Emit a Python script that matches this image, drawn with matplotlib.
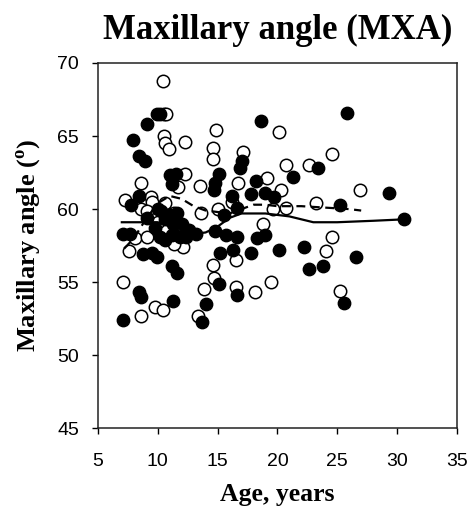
import numpy as np
import matplotlib
matplotlib.use("Agg")
import matplotlib.pyplot as plt

plt.rcParams['mathtext.fontset'] = 'custom'
plt.rcParams['mathtext.bf'] = 'Liberation Serif:bold'
plt.rcParams['mathtext.rm'] = 'Liberation Serif:bold'

# filled circles (group 1)
filled_age = [9.9, 10.2, 9.1, 7.9, 8.4, 8.9, 11.0, 11.5, 11.2, 14.8, 14.7, 15.1, 17.0, 16.9,
              8.4, 16.2, 18.6, 25.8, 23.4, 21.3, 18.2, 17.8, 19.0, 19.7, 29.3, 25.2, 30.6,
              16.6, 18.3, 19.0, 16.3, 17.8, 20.1, 22.2, 26.6, 22.6, 23.8, 16.6, 25.6,
              8.4, 8.6, 11.3, 7.1, 11.2, 11.6, 14.0, 13.7, 15.1, 15.2, 8.8, 9.5, 9.9,
              7.1, 13.2, 14.8, 15.7, 15.5, 16.6, 7.8, 10.3, 11.0, 11.6, 12.0, 9.1, 9.8,
              10.2, 10.6, 7.7, 11.2, 11.9, 12.4, 10.6, 11.3, 12.6, 10.0]
filled_mxa = [66.5, 66.5, 65.8, 64.7, 63.6, 63.3, 62.3, 62.4, 61.7, 61.8, 61.3, 62.4, 63.3, 62.8,
              60.9, 60.9, 66.0, 66.6, 62.8, 62.2, 61.9, 61.0, 61.1, 60.8, 61.1, 60.3, 59.3,
              58.1, 58.0, 58.2, 57.2, 57.0, 57.2, 57.4, 56.7, 55.9, 56.1, 54.1, 53.6,
              54.3, 54.0, 53.7, 52.4, 56.1, 55.6, 53.5, 52.3, 54.9, 57.0, 56.9, 57.0, 56.7,
              58.3, 58.3, 58.5, 58.2, 59.6, 60.1, 60.3, 59.9, 59.6, 59.7, 59.0, 59.4, 58.7,
              58.1, 57.9, 58.3, 58.2, 58.1, 58.1, 59.3, 59.0, 58.6, 60.0]

# open circles (group 2)
open_age = [10.4, 10.5, 10.7, 10.5, 10.6, 10.9, 12.3, 14.9, 14.6, 14.6, 12.3, 11.7, 8.6, 13.5,
            7.3, 9.4, 20.1, 17.1, 20.7, 22.6, 24.6, 16.7, 19.1, 20.3, 26.9, 23.2, 20.7,
            18.8, 24.6, 24.1, 16.5, 16.5, 18.1, 19.5, 25.2, 7.1, 9.8, 10.4, 8.6, 13.9,
            13.4, 14.6, 14.7, 7.6, 13.6, 15.0, 11.4, 12.1, 11.4, 9.5, 8.6, 9.1, 10.6,
            10.0, 8.1, 9.1, 16.2, 19.6]
open_mxa = [68.8, 66.5, 66.5, 65.0, 64.5, 64.1, 64.6, 65.4, 64.2, 63.4, 62.4, 61.5, 61.8, 61.6,
            60.6, 60.8, 65.3, 63.9, 63.0, 63.0, 63.8, 61.8, 62.1, 61.3, 61.3, 60.4, 60.1,
            59.0, 58.1, 57.1, 56.5, 54.7, 54.3, 55.0, 54.4, 55.0, 53.3, 53.1, 52.7, 54.5,
            52.7, 56.2, 55.3, 57.1, 59.7, 60.0, 59.7, 57.4, 57.6, 60.5, 60.0, 59.9, 60.4,
            59.1, 58.0, 58.1, 60.5, 60.0]

# smoothed trends
solid_age = [7.0, 8, 9, 10, 10.5, 11, 12, 13, 14, 15, 16, 17, 18, 19, 20, 21, 22, 23, 25, 28, 30.6]
solid_mxa = [59.1, 59.1, 59.1, 59.1, 59.0, 58.8, 58.4, 58.3, 58.4, 58.8, 59.4, 59.7, 59.7, 59.7,
             59.6, 59.5, 59.3, 59.1, 59.1, 59.2, 59.3]
dash_age = [7.2, 8, 9, 10, 11, 12, 13, 14, 15, 16, 17, 18, 19, 20, 22, 24, 26, 27]
dash_mxa = [57.3, 58.0, 59.3, 60.4, 60.9, 60.7, 60.2, 59.9, 59.8, 59.7, 60.0, 60.3, 60.3, 60.2,
            60.2, 60.1, 60.0, 59.9]

fig = plt.figure(figsize=(4.73, 5.08), dpi=100)
ax = fig.add_axes([0.207, 0.157, 0.759, 0.719])

ax.scatter(open_age, open_mxa, s=80, facecolors='white', edgecolors='black', linewidths=1.1, zorder=2)
ax.scatter(filled_age, filled_mxa, s=80, color='black', zorder=3)
ax.plot(solid_age, solid_mxa, color='black', lw=1.6, zorder=4)
ax.plot(dash_age, dash_mxa, color='black', lw=1.6, ls=(0, (4, 2.5)), zorder=4)

ax.set_xlim(5, 35)
ax.set_ylim(45, 70)
ax.set_xticks(np.arange(5, 36, 5))
ax.set_yticks(np.arange(45, 71, 5))
ax.tick_params(direction='out', length=4.5, width=1, labelsize=14, top=False, right=False)
ax.tick_params(axis='x', pad=13)
ax.tick_params(axis='y', pad=9)
for lab in ax.get_xticklabels() + ax.get_yticklabels():
    lab.set_fontfamily('Liberation Sans')
for sp in ax.spines.values():
    sp.set_linewidth(1.1)
    sp.set_color('#222222')

ax.set_title('Maxillary angle (MXA)', fontsize=25, fontweight='bold', family='Liberation Serif', pad=17)
ax.set_xlabel('Age, years', fontsize=18.5, fontweight='bold', family='Liberation Serif', labelpad=10)
ax.set_ylabel(r'Maxillary angle ($^{\mathbf{o}}$)', fontsize=19, fontweight='bold',
              family='Liberation Serif', labelpad=10)

fig.savefig('out.png', dpi=100)
